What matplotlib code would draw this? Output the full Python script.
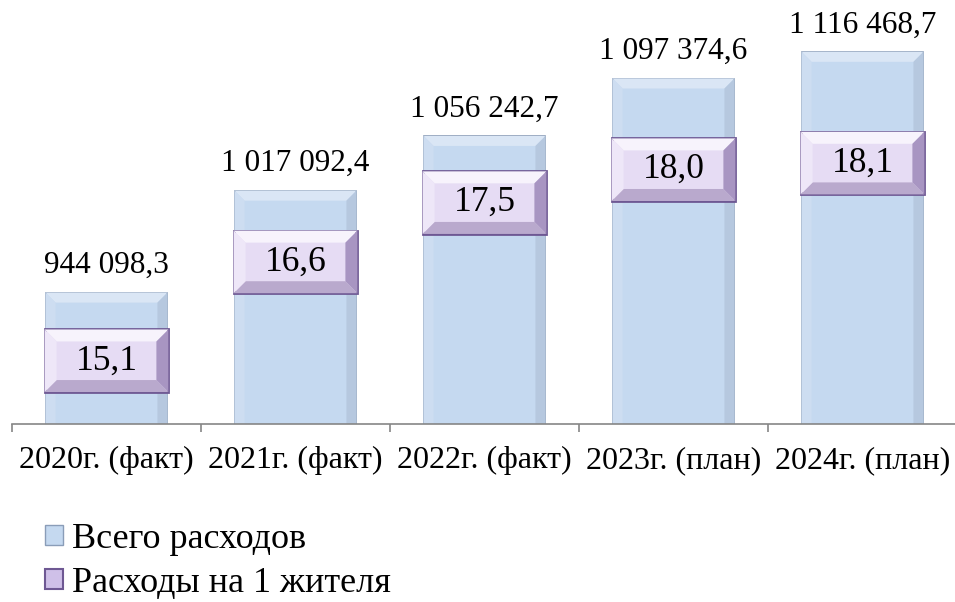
import matplotlib.pyplot as plt
import matplotlib.transforms as mtransforms
from matplotlib.patches import Polygon, Patch
import numpy as np

plt.rcParams['font.family'] = ['Liberation Serif', 'DejaVu Serif']

# данные
categories = ['2020г. (факт)', '2021г. (факт)', '2022г. (факт)', '2023г. (план)', '2024г. (план)']
total = [944098.3, 1017092.4, 1056242.7, 1097374.6, 1116468.7]   # всего расходов
per_capita = [15.1, 16.6, 17.5, 18.0, 18.1]                       # расходы на 1 жителя
legend_labels = ['Всего расходов', 'Расходы на 1 жителя']


def fmt_total(v):
    return f'{v:,.1f}'.replace(',', ' ').replace('.', ',')


def bevel(ax, patch, size, top, bottom, left, right):
    # рисуем "фаску" по краям прямоугольника в пикселях
    bb = patch.get_window_extent()
    l, b, r, t = bb.x0, bb.y0, bb.x1, bb.y1
    s = size
    polys = [
        ([(l, t), (r, t), (r - s, t - s), (l + s, t - s)], top),
        ([(l, b), (r, b), (r - s, b + s), (l + s, b + s)], bottom),
        ([(l, t), (l + s, t - s), (l + s, b + s), (l, b)], left),
        ([(r, t), (r - s, t - s), (r - s, b + s), (r, b)], right),
    ]
    for pts, c in polys:
        ax.add_patch(Polygon(pts, closed=True, facecolor=c, edgecolor='none',
                             transform=mtransforms.IdentityTransform(),
                             zorder=patch.get_zorder() + 0.1))


fig = plt.figure(figsize=(9.55, 6.02), dpi=100)
ax = fig.add_axes([12 / 955, 178 / 602, 945 / 955, 419 / 602])
ax2 = ax.twinx()

x = np.arange(len(categories))
ax.set_xlim(-0.5, 4.5)
ax.set_ylim(850000, 1150000)
ax2.set_ylim(14.14, 20.5)

bars = ax.bar(x, total, width=0.645, color='#C5D9F0', edgecolor='#8A9DB8',
              linewidth=1.2, zorder=2)

box_h = 0.95
boxes = ax2.bar(x, box_h, bottom=np.array(per_capita) - box_h / 2, width=0.655,
                color='#E6DCF4', edgecolor='#6E5893', linewidth=2, zorder=3)

fig.canvas.draw()
for b in bars:
    bevel(ax, b, 10, '#DAE6F5', '#B3C5DC', '#CDDDF1', '#B6C8DF')
for b in boxes:
    bevel(ax2, b, 12, '#F7F3FC', '#B9A9CD', '#EEE7F8', '#A895C2')

for xi, v in zip(x, total):
    ax.annotate(fmt_total(v), (xi, v), xytext=(0, 9), textcoords='offset points',
                ha='center', va='bottom', fontsize=22.5)

for xi, v in zip(x, per_capita):
    ax2.text(xi, v, f'{v:.1f}'.replace('.', ','), ha='center', va='center',
             fontsize=25.5, zorder=5)

ax.set_xticks(x, categories, fontsize=23)
ax.tick_params(axis='x', length=0, pad=16)
ax.set_xticks(np.arange(-0.5, 5, 1), minor=True)
ax.tick_params(axis='x', which='minor', length=6, color='#868686', width=1.2)
ax.set_yticks([])
ax2.set_yticks([])
for sp in ['left', 'right', 'top']:
    ax.spines[sp].set_visible(False)
for sp in ax2.spines.values():
    sp.set_visible(False)
ax.spines['bottom'].set_color('#868686')
ax.spines['bottom'].set_linewidth(1.2)

handles = [Patch(facecolor='#C5D9F0', edgecolor='#8A9DB8'),
           Patch(facecolor='#CFC0E8', edgecolor='#6E5893', linewidth=1.5)]
fig.legend(handles, legend_labels, loc='upper left', bbox_to_anchor=(45 / 955, 1 - 523 / 602),
           frameon=False, fontsize=26, handlelength=0.5, handleheight=0.5,
           handletextpad=0.25, labelspacing=0.3, borderaxespad=0, borderpad=0)

fig.savefig('out.png', dpi=100)
